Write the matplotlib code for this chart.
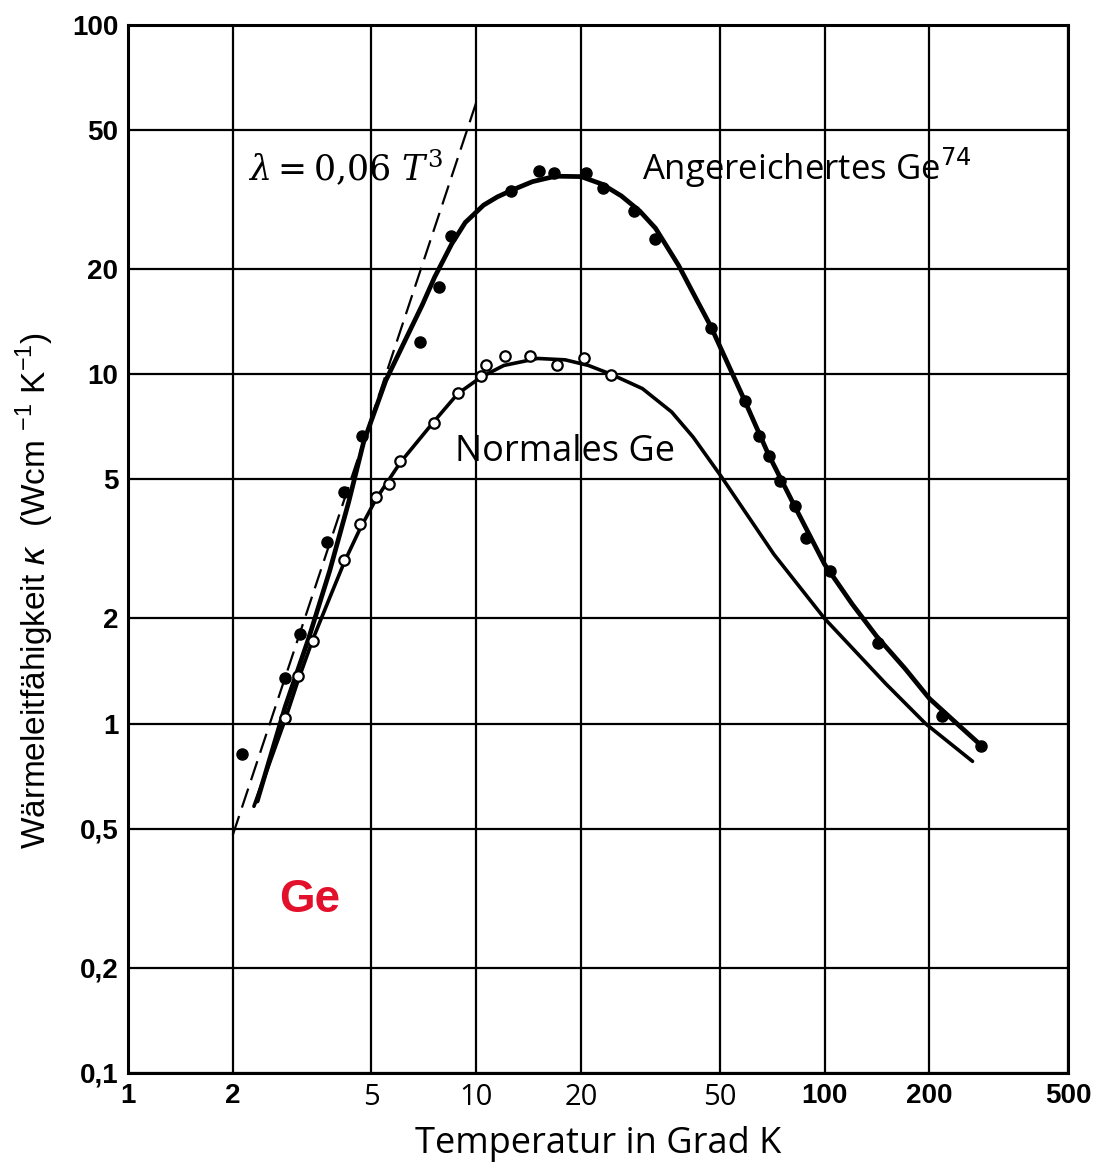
import matplotlib
matplotlib.use("Agg")
import matplotlib.pyplot as plt
import matplotlib.ticker as mticker

# Messpunkte, angereichertes Ge74 (gefuellte Kreise)
ge74_T = [2.12, 2.83, 3.12, 3.74, 4.18, 4.69, 6.89, 7.83, 8.47, 12.6, 15.1, 16.7,
          20.7, 23.1, 28.3, 32.7, 47.1, 59, 65, 69.3, 74.5, 82, 88.5, 104, 142, 218, 282]
ge74_k = [0.82, 1.35, 1.81, 3.32, 4.59, 6.64, 12.4, 17.8, 24.9, 33.5, 38.3, 37.8,
          37.8, 34.1, 29.3, 24.4, 13.6, 8.37, 6.64, 5.82, 4.95, 4.19, 3.39, 2.73, 1.70, 1.05, 0.865]

# Messpunkte, normales Ge (offene Kreise)
norm_T = [2.83, 3.08, 3.40, 4.18, 4.63, 5.16, 5.61, 6.06, 7.54, 8.85, 10.3, 10.7,
          12.1, 14.3, 17.1, 20.4, 24.4]
norm_k = [1.04, 1.37, 1.72, 2.95, 3.72, 4.44, 4.84, 5.63, 7.24, 8.82, 9.87, 10.66,
          11.3, 11.3, 10.6, 11.15, 9.98]

# ausgleichskurven
ge74_curve_T = [2.35, 2.83, 3.3, 3.8, 4.3, 4.75, 5.5, 6.2, 7.0, 7.6, 8.5, 9.3, 10.5,
                11.5, 12.7, 14.5, 16.9, 20, 23, 26.1, 29.5, 32.7, 38.1, 43, 47, 59, 69, 82,
                100, 120, 141, 170, 200, 240, 282]
ge74_curve_k = [0.6, 1.12, 1.75, 2.75, 4.3, 6.4, 9.6, 12.3, 15.8, 19.0, 23.6, 27.2, 30.5,
                32.2, 33.7, 35.6, 36.9, 36.8, 35.0, 32.4, 29.3, 26.2, 20.5, 16.3, 13.8, 8.4,
                5.9, 4.2, 2.86, 2.2, 1.78, 1.44, 1.18, 1.0, 0.865]

norm_curve_T = [2.3, 2.83, 3.08, 3.4, 3.8, 4.18, 4.63, 5.16, 6.06, 7.54, 8.85, 10.3,
                12.0, 15.0, 18.0, 21.0, 24.4, 30, 36.4, 42, 50.5, 71.6, 100, 150, 195, 266]
norm_curve_k = [0.58, 1.03, 1.33, 1.75, 2.3, 2.9, 3.6, 4.4, 5.6, 7.3, 8.8, 9.8,
                10.6, 11.1, 11.0, 10.6, 10.0, 9.1, 7.8, 6.6, 5.1, 3.05, 2.0, 1.3, 1.0, 0.78]

# lambda = 0,06 T^3 (gerade im log-log)
t3_T = [2, 10]
t3_k = [0.48, 60]

xticks = [1, 2, 5, 10, 20, 50, 100, 200, 500]
xlabels = ["1", "2", "5", "10", "20", "50", "100", "200", "500"]
yticks = [0.1, 0.2, 0.5, 1, 2, 5, 10, 20, 50, 100]
ylabels = ["0,1", "0,2", "0,5", "1", "2", "5", "10", "20", "50", "100"]

fig = plt.figure(figsize=(11.05, 11.71), dpi=100)
ax = fig.add_axes([0.1158, 0.0837, 0.8507, 0.895])
ax.set_xscale("log")
ax.set_yscale("log")
ax.set_xlim(1, 500)
ax.set_ylim(0.1, 100)

ax.xaxis.set_major_locator(mticker.FixedLocator(xticks))
ax.yaxis.set_major_locator(mticker.FixedLocator(yticks))
ax.xaxis.set_minor_locator(mticker.NullLocator())
ax.yaxis.set_minor_locator(mticker.NullLocator())
ax.set_xticklabels(xlabels, fontsize=20, fontweight="bold", family="Liberation Sans")
ax.set_yticklabels(ylabels, fontsize=20, fontweight="bold", family="Liberation Sans")
# 5..50 sind im original in einer anderen schrift gesetzt
for lab in ax.get_xticklabels():
    if lab.get_text() in ("5", "10", "20", "50"):
        lab.set_family("Open Sans")
        lab.set_fontweight("normal")
        lab.set_fontsize(21)
ax.tick_params(length=0, pad=7)
ax.grid(True, color="black", linewidth=1.6)
for s in ax.spines.values():
    s.set_linewidth(2.2)

ax.plot(t3_T, t3_k, color="black", lw=1.6, dashes=(9, 4))
ax.plot(norm_curve_T, norm_curve_k, color="black", lw=2.6, solid_capstyle="round")
ax.plot(ge74_curve_T, ge74_curve_k, color="black", lw=3.4, solid_capstyle="round")
ax.plot(ge74_T, ge74_k, "o", color="black", ms=8, zorder=5)
ax.plot(norm_T, norm_k, "o", mfc="white", mec="black", mew=1.6, ms=7.5, zorder=5)

ax.text(2.21, 39, r"$\lambda = 0{,}06\ T^3$", fontsize=25, family="DejaVu Serif",
        math_fontfamily="dejavuserif", va="center")
ax.text(30, 39, r"Angereichertes Ge$^{74}$", fontsize=25, family="Open Sans", va="center")
ax.text(8.7, 6.0, "Normales Ge", fontsize=26, family="Open Sans", va="center")
ax.text(3.33, 0.313, "Ge", fontsize=33, fontweight="bold", color="#e3102b",
        family="Liberation Sans", ha="center", va="center")

ax.set_xlabel("Temperatur in Grad K", fontsize=26, family="Open Sans", labelpad=10)
ax.set_ylabel(r"Wärmeleitfähigkeit $\kappa$  (Wcm $^{\mathregular{-1}}$ K$^{\mathregular{-1}}$)",
              fontsize=24, family="Liberation Sans")
ax.yaxis.set_label_coords(-0.077, 0.46)

fig.savefig("out.png", dpi=100)
